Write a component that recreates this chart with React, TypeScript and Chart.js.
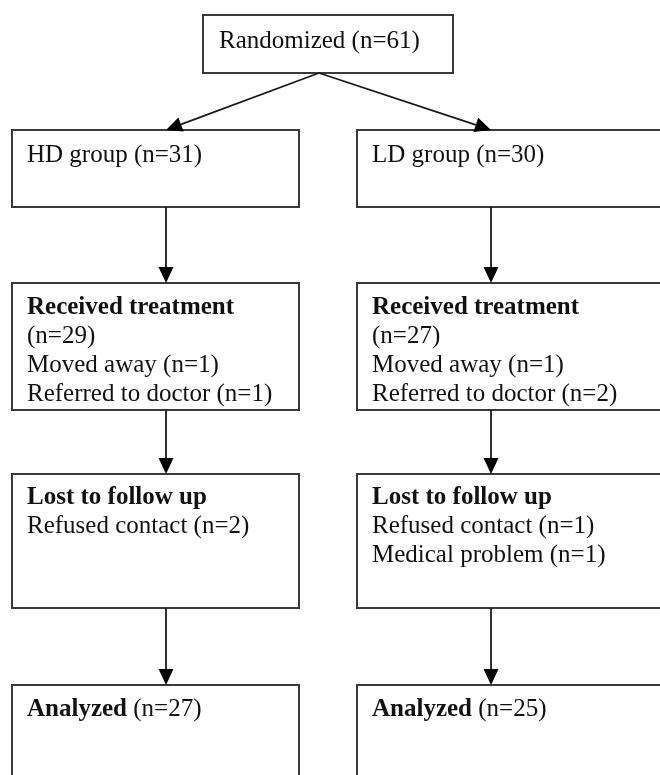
import React, { useEffect, useRef } from "react";
import { Chart, registerables } from "chart.js";
Chart.register(...registerables);

// ---- data ----
const arms = ["HD group", "LD group"];
const randomizedN = 61;
const allocatedN = [31, 30];
const receivedN = [29, 27];
const movedAwayN = [1, 1];
const referredN = [1, 2];
const refusedN = [2, 1];
const medicalProblemN = [0, 1];
const analyzedN = [27, 25];

// ---- layout (value space 0..660 x 0..775) ----
const W = 660;
const H = 775;
const FONT = '"Liberation Serif", "Times New Roman", serif';
const FS = 25;
const LH = 29;
const colLeft = [12, 357];
const colRight = [299, 680];
const colArrowX = [166, 491];
const rowTop = [130, 283, 474, 685];
const rowBottom = [207, 410, 608, 800];
const randBox = { x0: 203, x1: 453, y0: 15, y1: 73, apex: 319 };
const padX = 15;
const firstBaseline = 32;

type Seg = { t: string; b?: boolean };

function buildBoxes() {
  const boxes: { x0: number; x1: number; y0: number; y1: number; tx: number; by: number; lines: Seg[][] }[] = [];
  boxes.push({
    x0: randBox.x0, x1: randBox.x1, y0: randBox.y0, y1: randBox.y1,
    tx: randBox.x0 + 16, by: 48,
    lines: [[{ t: `Randomized (n=${randomizedN})` }]],
  });
  arms.forEach((arm, i) => {
    const x0 = colLeft[i], x1 = colRight[i];
    const tx = x0 + padX;
    boxes.push({ x0, x1, y0: rowTop[0], y1: rowBottom[0], tx, by: rowTop[0] + firstBaseline,
      lines: [[{ t: `${arm} (n=${allocatedN[i]})` }]] });
    boxes.push({ x0, x1, y0: rowTop[1], y1: rowBottom[1], tx, by: rowTop[1] + 31,
      lines: [
        [{ t: "Received treatment", b: true }],
        [{ t: `(n=${receivedN[i]})` }],
        [{ t: `Moved away (n=${movedAwayN[i]})` }],
        [{ t: `Referred to doctor (n=${referredN[i]})` }],
      ] });
    const lost: Seg[][] = [[{ t: "Lost to follow up", b: true }], [{ t: `Refused contact (n=${refusedN[i]})` }]];
    if (medicalProblemN[i] > 0) lost.push([{ t: `Medical problem (n=${medicalProblemN[i]})` }]);
    boxes.push({ x0, x1, y0: rowTop[2], y1: rowBottom[2], tx, by: rowTop[2] + 30, lines: lost });
    boxes.push({ x0, x1, y0: rowTop[3], y1: rowBottom[3], tx, by: rowTop[3] + 31,
      lines: [[{ t: "Analyzed", b: true }, { t: ` (n=${analyzedN[i]})` }]] });
  });
  return boxes;
}

function buildArrows() {
  const arrows: [number, number, number, number][] = [];
  arms.forEach((_, i) => {
    arrows.push([randBox.apex, randBox.y1, colArrowX[i], rowTop[0]]);
    for (let r = 0; r < 3; r++) arrows.push([colArrowX[i], rowBottom[r], colArrowX[i], rowTop[r + 1]]);
  });
  return arrows;
}

const flowPlugin = {
  id: "flow",
  afterDraw(chart: any) {
    const ctx: CanvasRenderingContext2D = chart.ctx;
    const sx = (v: number) => chart.scales.x.getPixelForValue(v);
    const sy = (v: number) => chart.scales.y.getPixelForValue(v);
    ctx.save();
    // boxes
    for (const b of buildBoxes()) {
      ctx.strokeStyle = "#3a3a3a";
      ctx.lineWidth = 2;
      ctx.strokeRect(sx(b.x0), sy(b.y0), sx(b.x1) - sx(b.x0), sy(b.y1) - sy(b.y0));
      ctx.fillStyle = "#111";
      ctx.textBaseline = "alphabetic";
      ctx.textAlign = "left";
      b.lines.forEach((line, li) => {
        let x = sx(b.tx);
        const y = sy(b.by + li * LH);
        for (const s of line) {
          ctx.font = `${s.b ? "bold " : ""}${FS}px ${FONT}`;
          ctx.fillText(s.t, x, y);
          x += ctx.measureText(s.t).width;
        }
      });
    }
    // arrows
    for (const [a, b, c, d] of buildArrows()) {
      const x1 = sx(a), y1 = sy(b), x2 = sx(c), y2 = sy(d);
      const ang = Math.atan2(y2 - y1, x2 - x1);
      const hl = 16, hw = 7.5;
      const bx = x2 - hl * Math.cos(ang), by = y2 - hl * Math.sin(ang);
      ctx.strokeStyle = "#1a1a1a";
      ctx.lineWidth = 1.8;
      ctx.beginPath();
      ctx.moveTo(x1, y1);
      ctx.lineTo(bx, by);
      ctx.stroke();
      ctx.fillStyle = "#000";
      ctx.beginPath();
      ctx.moveTo(x2, y2);
      ctx.lineTo(bx + hw * Math.sin(ang), by - hw * Math.cos(ang));
      ctx.lineTo(bx - hw * Math.sin(ang), by + hw * Math.cos(ang));
      ctx.closePath();
      ctx.fill();
    }
    ctx.restore();
  },
};

export default function App() {
  const ref = useRef<HTMLCanvasElement>(null);
  useEffect(() => {
    if (!ref.current) return;
    const chart = new Chart(ref.current, {
      type: "scatter",
      data: { datasets: [{ data: [], pointRadius: 0 }] },
      options: {
        animation: false,
        responsive: false,
        maintainAspectRatio: false,
        layout: { padding: 0 },
        plugins: { legend: { display: false }, tooltip: { enabled: false } },
        scales: {
          x: { type: "linear", min: 0, max: W, display: false },
          y: { type: "linear", min: 0, max: H, reverse: true, display: false },
        },
      },
      plugins: [flowPlugin],
    });
    return () => chart.destroy();
  }, []);
  return (
    <div style={{ position: "fixed", left: 0, top: 0, width: W, height: H, background: "#fff" }}>
      <canvas ref={ref} width={W} height={H} style={{ width: W, height: H, display: "block" }} />
    </div>
  );
}
